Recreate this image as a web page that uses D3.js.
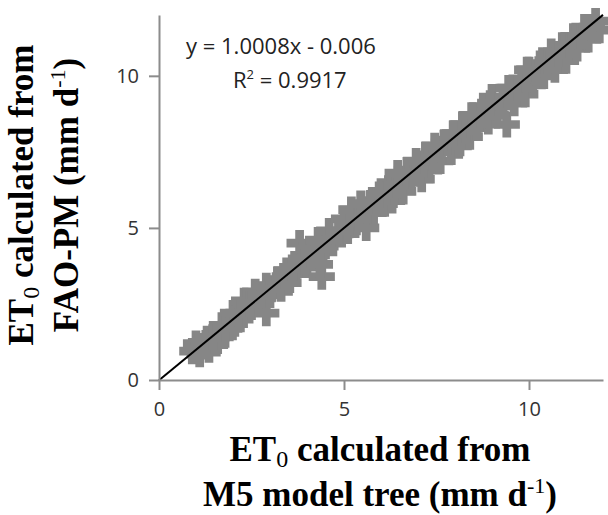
<!DOCTYPE html>
<html>
<head>
<meta charset="utf-8">
<script src="https://cdn.jsdelivr.net/npm/d3@7"></script>
<style>
  html, body { margin: 0; padding: 0; background: #fff; }
  svg { display: block; }
</style>
</head>
<body>
<div id="chart"></div>
<script>
// ET0 from M5 model tree (x) vs FAO-PM (y)
const xVals = [0.9, 1.0, 1.1, 1.2, 1.3, 1.35, 1.5, 1.55, 1.7, 1.75, 1.9, 2.0, 2.05, 2.2, 2.3, 2.35,
  2.5, 2.6, 2.65, 2.8, 2.9, 3.0, 2.9, 3.2, 3.3, 3.45, 3.5, 3.7, 3.8, 3.9, 4.0, 4.1, 4.2, 4.4,
  4.3, 4.5, 4.6, 4.7, 4.9, 5.0, 5.1, 5.2, 5.3, 5.5, 5.6, 5.7, 5.8, 6.0, 6.1, 6.2, 6.3, 6.5,
  6.6, 6.7, 6.8, 7.0, 7.1, 7.2, 7.3, 7.5, 7.6, 7.7, 7.9, 8.0, 8.1, 8.2, 8.4, 8.5, 8.6, 8.8,
  8.9, 9.0, 9.1, 9.3, 9.4, 9.5, 9.6, 9.8, 9.9, 10.0, 10.1, 10.3, 10.4, 10.6, 10.7, 10.9, 11.0,
  11.2, 11.3, 11.5, 11.6, 11.8, 11.9,
  1.05, 1.45, 1.8, 2.15, 2.45, 2.75, 3.05, 3.4, 3.6, 3.95, 4.25, 4.35, 4.55, 4.85, 5.15, 5.4,
  5.9, 6.4, 6.9, 7.4, 7.8, 8.3, 8.7, 9.2, 9.7, 10.2, 10.5, 10.8, 11.1, 11.4, 11.7,
  5.45, 5.95, 6.45, 6.95, 7.45, 7.95, 8.45, 8.95, 9.45, 9.95];
const yVals = [0.95, 1.2, 0.85, 1.1, 1.35, 1.0, 1.5, 1.2, 1.8, 1.45, 1.7, 2.2, 1.85, 2.0, 2.6, 2.3,
  2.4, 2.9, 2.5, 2.7, 3.1, 2.8, 2.2, 3.3, 3.0, 3.6, 3.2, 3.5, 4.5, 4.1, 3.8, 4.3, 4.0, 3.4,
  4.6, 4.4, 4.9, 4.5, 4.8, 5.3, 4.9, 5.6, 5.1, 5.4, 5.0, 5.8, 5.5, 6.2, 5.8, 6.3, 5.9, 6.6,
  6.2, 6.9, 6.5, 7.0, 6.6, 7.4, 6.9, 7.6, 7.2, 7.8, 7.5, 8.1, 7.7, 8.4, 8.0, 8.7, 8.3, 8.9,
  8.5, 9.3, 8.7, 9.2, 8.4, 9.6, 9.1, 9.9, 9.4, 10.2, 9.7, 10.4, 10.0, 10.8, 10.2, 11.0, 10.5,
  11.3, 10.9, 11.6, 11.2, 11.8, 11.5,
  1.0, 1.4, 1.7, 2.2, 2.5, 2.8, 3.0, 3.4, 3.7, 3.9, 4.2, 3.8, 4.6, 4.9, 5.2, 5.3,
  5.9, 6.4, 6.8, 7.3, 7.8, 8.2, 8.7, 9.0, 9.6, 10.1, 10.5, 10.7, 11.0, 11.3, 11.6,
  5.8, 6.1, 6.8, 7.2, 7.7, 8.1, 8.7, 9.1, 9.6, 10.2];
const xTicks = [0, 5, 10];
const yTicks = [0, 5, 10];
const slope = 1.0008;
const intercept = -0.006;
const eqLabel = "y = 1.0008x - 0.006";
const r2Label = "0.9917";

const width = 608, height = 515;
const svg = d3.select('#chart').append('svg')
  .attr('width', width)
  .attr('height', height);

const x = d3.scaleLinear().domain([0, 12]).range([159, 603]);
const y = d3.scaleLinear().domain([0, 12]).range([380, 15]);

const tickFont = '"Open Sans", "DejaVu Sans", sans-serif';
const titleFont = '"Liberation Serif", "Times New Roman", serif';

// points (big gray crosses, like the Excel markers)
const pts = xVals.map((v, i) => ({ x: v, y: yVals[i] }));
svg.append('g')
  .selectAll('path')
  .data(pts)
  .join('path')
  .attr('d', d3.symbol().type(d3.symbolCross).size(380))
  .attr('transform', d => `translate(${x(d.x)},${y(d.y)})`)
  .attr('fill', '#868686');

// trend line
svg.append('line')
  .attr('x1', x(0)).attr('y1', y(intercept))
  .attr('x2', x(12)).attr('y2', y(slope * 12 + intercept))
  .attr('stroke', '#000')
  .attr('stroke-width', 2);

// axes
const xAxis = svg.append('g')
  .attr('transform', `translate(0,${y(0)})`)
  .call(d3.axisBottom(x).tickValues(xTicks).tickSize(10).tickPadding(12).tickSizeOuter(0));
const yAxis = svg.append('g')
  .attr('transform', `translate(${x(0)},0)`)
  .call(d3.axisLeft(y).tickValues(yTicks).tickSize(10).tickPadding(10).tickSizeOuter(0));

[xAxis, yAxis].forEach(a => {
  a.select('.domain').attr('stroke', '#8c8c8c').attr('stroke-width', 2);
  a.selectAll('.tick line').attr('stroke', '#8c8c8c').attr('stroke-width', 2);
  a.selectAll('.tick text')
    .attr('fill', '#333')
    .style('font-family', tickFont)
    .style('font-size', '20px');
});

// equation
svg.append('text')
  .attr('x', 186).attr('y', 54)
  .style('font-family', tickFont)
  .style('font-size', '22px')
  .attr('fill', '#222')
  .text(eqLabel);
const r2 = svg.append('text')
  .attr('x', 233).attr('y', 88)
  .style('font-family', tickFont)
  .style('font-size', '22px')
  .attr('fill', '#222');
r2.append('tspan').text('R');
r2.append('tspan').attr('dy', -9).style('font-size', '13px').text('2');
r2.append('tspan').attr('dy', 9).text(' = ' + r2Label);

// axis titles
function title(sel, line1, line2, lh) {
  const t1 = sel.append('text').attr('text-anchor', 'middle');
  t1.append('tspan').text('ET');
  t1.append('tspan').attr('dy', 6).style('font-size', '24px').style('font-weight', 'normal').text('0');
  t1.append('tspan').attr('dy', -6).text(' ' + line1);
  const t2 = sel.append('text').attr('text-anchor', 'middle').attr('y', lh);
  t2.append('tspan').text(line2 + ' (mm d');
  t2.append('tspan').attr('dy', -13).style('font-size', '22px').style('font-weight', 'normal').text('-1');
  t2.append('tspan').attr('dy', 13).text(')');
  sel.selectAll('text')
    .style('font-family', titleFont)
    .style('font-size', '35px')
    .style('font-weight', 'bold')
    .attr('fill', '#000');
}

title(svg.append('g').attr('transform', 'translate(380,461)'), 'calculated from', 'M5 model tree', 45);
title(svg.append('g').attr('transform', 'translate(33,195) rotate(-90)'), 'calculated from', 'FAO-PM', 45);
</script>
</body>
</html>
